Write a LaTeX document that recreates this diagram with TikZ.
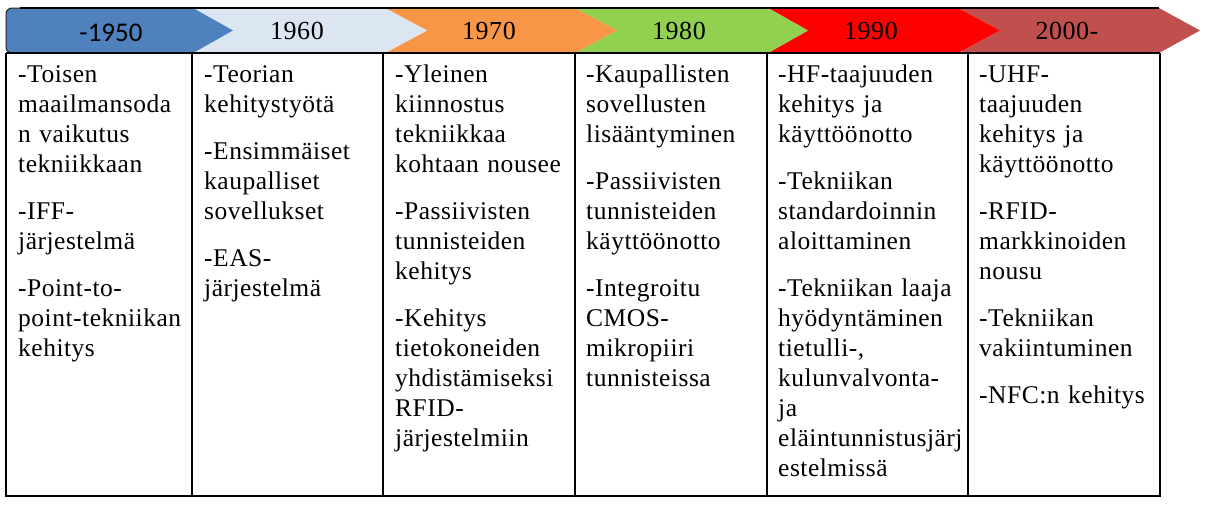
\documentclass[tikz,border=0pt]{standalone}
\usepackage{fontspec}
\setmainfont{Liberation Serif}[LetterSpace=2]
\newfontfamily\hdrsans{Carlito}
\definecolor{cblue}{HTML}{4F81BD}
\definecolor{clight}{HTML}{DCE6F2}
\definecolor{corange}{HTML}{F79646}
\definecolor{cgreen}{HTML}{92D050}
\definecolor{cred}{HTML}{FF0000}
\definecolor{cbrown}{HTML}{C0504D}
\begin{document}
\begin{tikzpicture}[x=1pt,y=-1pt,
  tline/.style={line width=1.2pt,black},
  coltext/.style={anchor=north west,inner sep=0pt,text width=178pt,align=left,
    font=\fontsize{25.5}{30}\selectfont},
  hdr/.style={inner sep=0pt,font=\fontsize{26}{30}\selectfont}]
\useasboundingbox (0,0) rectangle (1208,509);
% chevrons
\fill[cbrown] (958,8) -- (1159,8) -- (1200,30.5) -- (1159,53) -- (958,53) -- (1000,30.5) -- cycle;
\fill[cred] (768,8) -- (958,8) -- (1000,30.5) -- (958,53) -- (768,53) -- (808,30.5) -- cycle;
\fill[cgreen] (575,8) -- (768,8) -- (808,30.5) -- (768,53) -- (575,53) -- (617,30.5) -- cycle;
\fill[corange] (385,8) -- (575,8) -- (617,30.5) -- (575,53) -- (385,53) -- (427,30.5) -- cycle;
\fill[clight] (193,8) -- (385,8) -- (427,30.5) -- (385,53) -- (193,53) -- (233,30.5) -- cycle;
\fill[cblue, rounded corners=6pt] (6,8) rectangle (40,53);
\fill[cblue] (25,8) -- (193,8) -- (233,30.5) -- (193,53) -- (25,53) -- cycle;
\draw[line width=1pt,black!85,rounded corners=6pt] (40,8) -- (6,8) -- (6,53) -- (40,53);
% table lines
\draw[tline] (20,8) -- (1159,8);
\draw[tline] (6,53) -- (1160,53);
\draw[tline] (6,53) -- (6,496) -- (1160,496) -- (1160,53);
\foreach \xx in {192,383,575,767,968} \draw[tline] (\xx,53) -- (\xx,496);
% header labels
\node[hdr,font=\hdrsans\fontsize{27}{30}\selectfont] (h1) at (111,33) {-1950};
\node[hdr] (h2) at (297,31) {1960};
\node[hdr] (h3) at (489,31) {1970};
\node[hdr] (h4) at (679,31) {1980};
\node[hdr] (h5) at (871,31) {1990};
\node[hdr] (h6) at (1067,31) {2000-};
% column texts
\def\fl{\rule{0pt}{20pt}}
\def\pg{\\[17pt]}
\node[coltext] (c1) at (18,62) {\fl-Toisen\\maailmansoda\\n vaikutus\\tekniikkaan\pg-IFF-\\järjestelmä\pg-Point-to-\\point-tekniikan\\kehitys};
\node[coltext] (c2) at (204,62) {\fl-Teorian\\kehitystyötä\pg-Ensimmäiset\\kaupalliset\\sovellukset\pg-EAS-\\järjestelmä};
\node[coltext] (c3) at (395,62) {\fl-Yleinen\\kiinnostus\\tekniikkaa\\kohtaan nousee\pg-Passiivisten\\tunnisteiden\\kehitys\pg-Kehitys\\tietokoneiden\\yhdistämiseksi\\RFID-\\järjestelmiin};
\node[coltext] (c4) at (586,62) {\fl-Kaupallisten\\sovellusten\\lisääntyminen\pg-Passiivisten\\tunnisteiden\\käyttöönotto\pg-Integroitu\\CMOS-\\mikropiiri\\tunnisteissa};
\node[coltext,text width=195pt] (c5) at (778,62) {\fl-HF-taajuuden\\kehitys ja\\käyttöönotto\pg-Tekniikan\\standardoinnin\\aloittaminen\pg-Tekniikan laaja\\hyödyntäminen\\tietulli-,\\kulunvalvonta-\\ja\\eläintunnistusjärj\\estelmissä};
\node[coltext] (c6) at (979,62) {\fl-UHF-\\taajuuden\\kehitys ja\\käyttöönotto\pg-RFID-\\markkinoiden\\nousu\pg-Tekniikan\\vakiintuminen\pg-NFC:n kehitys};
\end{tikzpicture}
\end{document}
